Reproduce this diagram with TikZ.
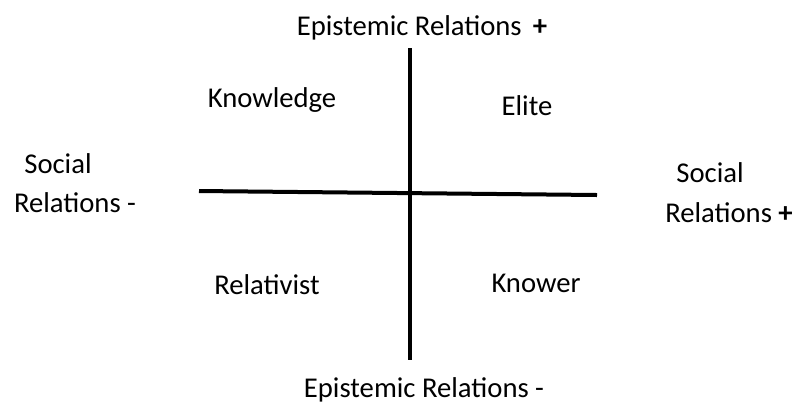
\documentclass[tikz,border=0pt]{standalone}
\usepackage{fontspec}
\setmainfont{Carlito}
\begin{document}
\begin{tikzpicture}
  [x=0.75pt,y=-0.75pt,
   every node/.style={anchor=base,inner sep=0pt,font=\fontsize{21.5}{26}\selectfont},
   axis/.style={line width=3pt}]
  \useasboundingbox (0,0) rectangle (792,405);

  % axes
  \coordinate (top)    at (410,48);
  \coordinate (bottom) at (410,360);
  \coordinate (left)   at (199,191);
  \coordinate (right)  at (597,195);
  \draw[axis] (top) -- (bottom);
  \draw[axis] (left) -- (right);

  % axis labels
  \node (erplus)   at (422,35)  {Epistemic Relations \,\textbf{+}};
  \node (erminus)  at (424,397) {Epistemic Relations -};
  \node (srminus1) at (58,173)  {Social};
  \node (srminus2) at (75,212)  {Relations -};
  \node (srplus1)  at (710,182) {Social};
  \node (srplus2)  at (729,222) {Relations \textbf{+}};

  % quadrants
  \node (knowledge)  at (272,107) {Knowledge};
  \node (elite)      at (527,115) {Elite};
  \node (relativist) at (267,294) {Relativist};
  \node (knower)     at (536,292) {Knower};

\end{tikzpicture}
\end{document}
